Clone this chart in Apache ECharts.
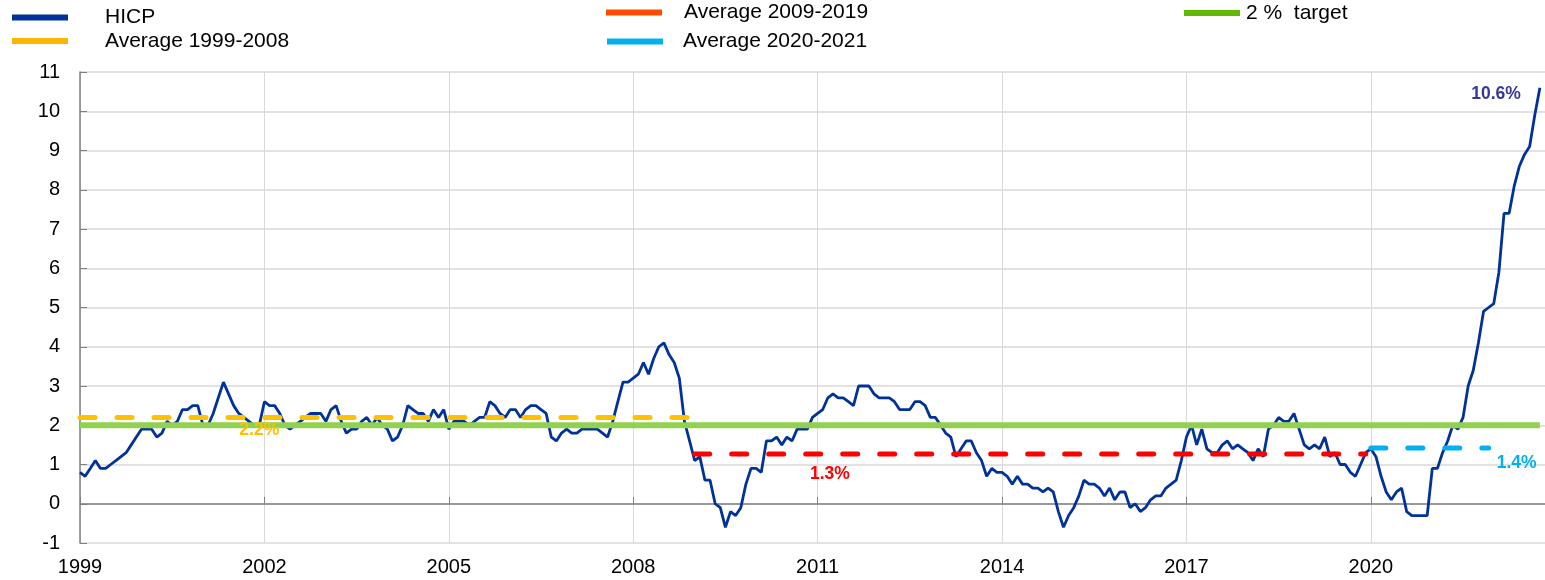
<!DOCTYPE html>
<html>
<head>
<meta charset="utf-8">
<script src="https://cdn.jsdelivr.net/npm/echarts@6/dist/echarts.min.js"></script>
<style>
  html, body { margin: 0; padding: 0; background: #fff; }
  #chart { width: 1545px; height: 580px; }
</style>
</head>
<body>
<div id="chart"></div>
<script>
// monthly categories, Jan 1999 .. Nov 2022 (one empty slot after the last observation)
const months = []
for (let y = 1999; y <= 2022; y++) {
  for (let m = 1; m <= 12; m++) {
    if (y === 2022 && m > 11) break
    months.push(y + '-' + String(m).padStart(2, '0'))
  }
}

// HICP, annual % change, Jan 1999 .. Oct 2022
const hicp = [
  0.8, 0.7, 0.9, 1.1, 0.9, 0.9, 1.0, 1.1, 1.2, 1.3, 1.5, 1.7,   // 1999
  1.9, 1.9, 1.9, 1.7, 1.8, 2.1, 2.0, 2.1, 2.4, 2.4, 2.5, 2.5,   // 2000
  2.0, 2.0, 2.3, 2.7, 3.1, 2.8, 2.5, 2.3, 2.2, 2.1, 2.0, 2.0,   // 2001
  2.6, 2.5, 2.5, 2.3, 2.0, 1.9, 2.0, 2.1, 2.2, 2.3, 2.3, 2.3,   // 2002
  2.1, 2.4, 2.5, 2.1, 1.8, 1.9, 1.9, 2.1, 2.2, 2.0, 2.2, 2.0,   // 2003
  1.9, 1.6, 1.7, 2.0, 2.5, 2.4, 2.3, 2.3, 2.1, 2.4, 2.2, 2.4,   // 2004
  1.9, 2.1, 2.1, 2.1, 2.0, 2.1, 2.2, 2.2, 2.6, 2.5, 2.3, 2.2,   // 2005
  2.4, 2.4, 2.2, 2.4, 2.5, 2.5, 2.4, 2.3, 1.7, 1.6, 1.8, 1.9,   // 2006
  1.8, 1.8, 1.9, 1.9, 1.9, 1.9, 1.8, 1.7, 2.1, 2.6, 3.1, 3.1,   // 2007
  3.2, 3.3, 3.6, 3.3, 3.7, 4.0, 4.1, 3.8, 3.6, 3.2, 2.1, 1.6,   // 2008
  1.1, 1.2, 0.6, 0.6, 0.0, -0.1, -0.6, -0.2, -0.3, -0.1, 0.5, 0.9, // 2009
  0.9, 0.8, 1.6, 1.6, 1.7, 1.5, 1.7, 1.6, 1.9, 1.9, 1.9, 2.2,   // 2010
  2.3, 2.4, 2.7, 2.8, 2.7, 2.7, 2.6, 2.5, 3.0, 3.0, 3.0, 2.8,   // 2011
  2.7, 2.7, 2.7, 2.6, 2.4, 2.4, 2.4, 2.6, 2.6, 2.5, 2.2, 2.2,   // 2012
  2.0, 1.8, 1.7, 1.2, 1.4, 1.6, 1.6, 1.3, 1.1, 0.7, 0.9, 0.8,   // 2013
  0.8, 0.7, 0.5, 0.7, 0.5, 0.5, 0.4, 0.4, 0.3, 0.4, 0.3, -0.2,  // 2014
  -0.6, -0.3, -0.1, 0.2, 0.6, 0.5, 0.5, 0.4, 0.2, 0.4, 0.1, 0.3, // 2015
  0.3, -0.1, 0.0, -0.2, -0.1, 0.1, 0.2, 0.2, 0.4, 0.5, 0.6, 1.1, // 2016
  1.7, 2.0, 1.5, 1.9, 1.4, 1.3, 1.3, 1.5, 1.6, 1.4, 1.5, 1.4,   // 2017
  1.3, 1.1, 1.4, 1.2, 1.9, 2.0, 2.2, 2.1, 2.1, 2.3, 1.9, 1.5,   // 2018
  1.4, 1.5, 1.4, 1.7, 1.2, 1.3, 1.0, 1.0, 0.8, 0.7, 1.0, 1.3,   // 2019
  1.4, 1.2, 0.7, 0.3, 0.1, 0.3, 0.4, -0.2, -0.3, -0.3, -0.3, -0.3, // 2020
  0.9, 0.9, 1.3, 1.6, 2.0, 1.9, 2.2, 3.0, 3.4, 4.1, 4.9, 5.0,   // 2021
  5.1, 5.9, 7.4, 7.4, 8.1, 8.6, 8.9, 9.1, 9.9, 10.6              // 2022
]

// period averages
const avgNames = ['Average 1999-2008', 'Average 2009-2019', 'Average 2020-2021']
const avgStart = ['1999-01', '2009-01', '2020-01']
const avgEnd = ['2008-12', '2019-12', '2021-12']
const avgValues = [2.2, 1.27, 1.42]
const avgLabels = ['2.2%', '1.3%', '1.4%']
const avgLabelAt = ['2001-12', '2011-03', '2021-12']

const targetName = '2 %  target'
const targetValue = 2

const yTicks = { min: -1, max: 11, step: 1 }

const lastMonth = months[hicp.length - 1]
const lastLabel = hicp[hicp.length - 1].toFixed(1) + '%'

const FONT = 'Liberation Sans, Arial, sans-serif'
const lineColors = ['#FFC000', '#FF0000', '#00B0F0']
const legendColors = ['#FFB400', '#FF4B00', '#00B1EA']
const avgLabelPos = [
  { position: 'bottom', distance: 4, offset: [0, 0] },
  { position: 'bottom', distance: 11, offset: [2, 0] },
  { position: 'right', distance: 8, offset: [0, 15] }
]

const chart = echarts.init(document.getElementById('chart'))

function legendBox(name, color, left, top, gap) {
  return {
    left: left, top: top, padding: 0,
    itemWidth: 56, itemHeight: 6,
    selectedMode: false,
    data: [{ name: name, icon: 'rect', itemStyle: { color: color, borderWidth: 0 } }],
    textStyle: { fontFamily: FONT, fontSize: 21, color: '#000', padding: [0, 0, 0, gap] }
  }
}

const avgSeries = avgNames.map((name, i) => ({
  name: name,
  type: 'line',
  z: 4,
  symbol: 'none',
  silent: true,
  data: [[avgStart[i], avgValues[i]], [avgEnd[i], avgValues[i]]],
  lineStyle: { color: lineColors[i], width: 5, type: [15, 22], cap: 'round' },
  itemStyle: { color: lineColors[i] },
  markPoint: {
    symbol: 'circle', symbolSize: 0, z: 10, silent: true,
    data: [{ coord: [avgLabelAt[i], avgValues[i]], value: avgLabels[i] }],
    label: {
      show: true, formatter: avgLabels[i],
      position: avgLabelPos[i].position, distance: avgLabelPos[i].distance, offset: avgLabelPos[i].offset,
      color: lineColors[i], fontFamily: FONT, fontWeight: 'bold', fontSize: 17.5
    }
  }
}))

const xBase = {
  type: 'category',
  data: months,
  boundaryGap: false,
  gridIndex: 0
}

chart.setOption({
  animation: false,
  backgroundColor: '#fff',
  legend: [
    legendBox('HICP', '#003299', 12, 7, 32),
    legendBox(avgNames[0], legendColors[0], 12, 30.5, 32),
    legendBox(avgNames[1], legendColors[1], 606, 2, 17),
    legendBox(avgNames[2], legendColors[2], 607, 31, 15),
    legendBox(targetName, '#65B800', 1184, 2.5, 1)
  ],
  grid: { left: 80, right: 0, top: 72, bottom: 37, containLabel: false, outerBoundsMode: 'none' },
  xAxis: [
    // year labels along the bottom edge, vertical gridlines every three years
    Object.assign({}, xBase, {
      position: 'bottom',
      axisLine: { show: false, onZero: false },
      axisTick: { show: false },
      axisLabel: {
        interval: 35, margin: 14,
        formatter: v => v.slice(0, 4),
        color: '#000', fontFamily: FONT, fontSize: 20
      },
      splitLine: { show: true, interval: 35, lineStyle: { color: '#D9D9D9', width: 1 } }
    }),
    // zero line with upward ticks
    Object.assign({}, xBase, {
      position: 'bottom',
      axisLine: { show: true, onZero: true, lineStyle: { color: '#808080', width: 1.5 } },
      axisTick: { show: true, inside: true, length: 7, interval: 35, lineStyle: { color: '#808080', width: 1 } },
      axisLabel: { show: false },
      splitLine: { show: false }
    })
  ],
  yAxis: {
    type: 'value',
    min: yTicks.min, max: yTicks.max, interval: yTicks.step,
    axisLine: { show: true, onZero: false, lineStyle: { color: '#808080', width: 1.5 } },
    axisTick: { show: true, inside: true, length: 7, lineStyle: { color: '#808080', width: 1 } },
    axisLabel: { margin: 20, color: '#000', fontFamily: FONT, fontSize: 20 },
    splitLine: { show: true, lineStyle: { color: '#D9D9D9', width: 1.5 } }
  },
  series: [
    {
      name: 'HICP',
      type: 'line',
      z: 2,
      symbol: 'none',
      silent: true,
      data: hicp,
      lineStyle: { color: '#003299', width: 2.8 },
      itemStyle: { color: '#003299' },
      markPoint: {
        symbol: 'circle', symbolSize: 0, z: 10, silent: true,
        data: [{ coord: [lastMonth, hicp[hicp.length - 1]] }],
        label: {
          show: true, formatter: lastLabel,
          position: 'left', distance: 19, offset: [0, 6.5],
          color: '#37379A', fontFamily: FONT, fontWeight: 'bold', fontSize: 17.5
        }
      }
    },
    ...avgSeries,
    {
      name: targetName,
      type: 'line',
      z: 3,
      symbol: 'none',
      silent: true,
      data: [[months[0], targetValue], [lastMonth, targetValue]],
      lineStyle: { color: '#92D050', width: 6 },
      itemStyle: { color: '#92D050' }
    }
  ]
})
</script>
</body>
</html>
